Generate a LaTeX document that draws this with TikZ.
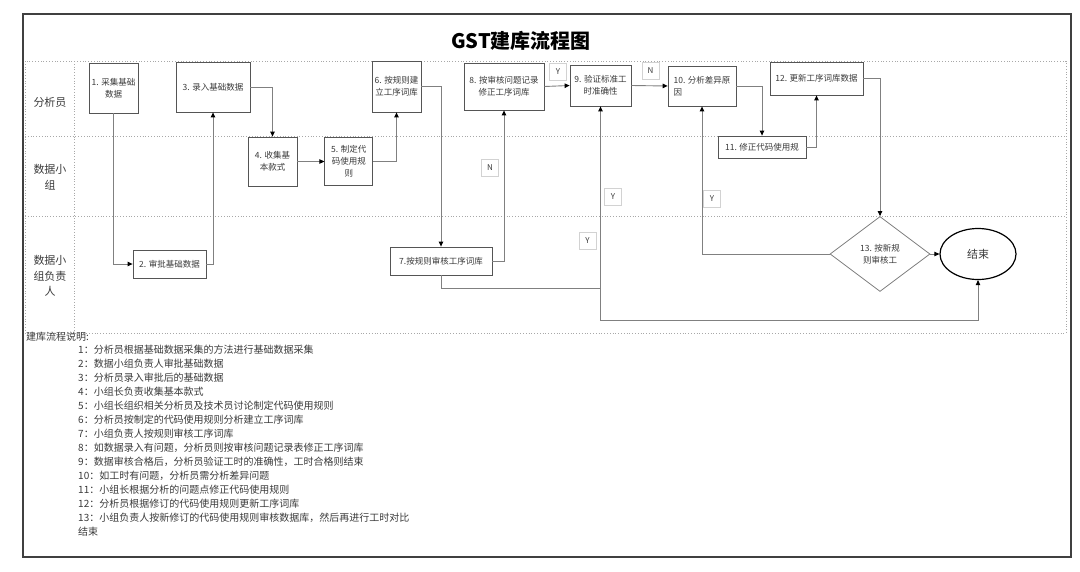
\documentclass[tikz,border=0pt]{standalone}
\usepackage{fontspec}
\setmainfont{Noto Sans CJK SC}
\usetikzlibrary{arrows.meta,positioning,shapes.geometric}
\definecolor{boxgrey}{HTML}{555555}
\definecolor{linegrey}{HTML}{808080}
\definecolor{lanegrey}{HTML}{A8A8A8}
\definecolor{taggrey}{HTML}{D2D2D2}
\definecolor{textgrey}{HTML}{3A3A3A}
\definecolor{framegrey}{HTML}{404040}

\begin{document}
\begin{tikzpicture}[x=1pt,y=-1pt,
  box/.style={draw=boxgrey,line width=.8pt,fill=white,align=center,inner sep=1pt,font=\fontsize{8.5}{12}\selectfont,text=textgrey},
  flow/.style={-{Triangle[length=5pt,width=4.5pt,color=black]},draw=linegrey,line width=.9pt},
  tag/.style={draw=taggrey,fill=white,minimum width=17pt,minimum height=17pt,inner sep=0pt,font=\fontsize{8}{9}\selectfont,text=textgrey},
  lane/.style={draw=lanegrey,dotted,line width=.8pt},
  lanelabel/.style={align=center,font=\fontsize{11}{15.5}\selectfont,text=textgrey},
  descr/.style={anchor=west,inner sep=0pt,font=\fontsize{10}{12}\selectfont,text=textgrey}
]
\useasboundingbox (0,0) rectangle (1080,571);
\draw[framegrey,line width=1.6pt] (23,14) rectangle (1071,557);
\node[font=\fontsize{20}{24}\selectfont\bfseries] (title) at (521,41) {GST建库流程图};

% swimlanes
\draw[lane] (25,61) rectangle (1066,333);
\draw[lane] (74,61) -- (74,333);
\draw[lane] (25,136) -- (1066,136);
\draw[lane] (25,216) -- (1066,216);
\node[lanelabel] (analyst) at (50,102) {分析员};
\node[lanelabel] (group) at (50,177) {数据小\\组};
\node[lanelabel] (leader) at (50,276) {数据小\\组负责\\人};

% steps
\node[box,minimum width=49pt,minimum height=50pt] (s1) at (113.5,88) {1. 采集基础\\数据};
\node[box,minimum width=73pt,minimum height=28pt] (s2) at (169.5,264) {2. 审批基础数据};
\node[box,minimum width=74pt,minimum height=50pt] (s3) at (213,87) {3. 录入基础数据};
\node[box,minimum width=49pt,minimum height=49pt] (s4) at (272.5,161.5) {4. 收集基\\本款式};
\node[box,minimum width=48pt,minimum height=48pt,right=27pt of s4] (s5) {5. 制定代\\码使用规\\则};
\node[box,minimum width=49pt,minimum height=51pt] (s6) at (396.5,86.5) {6. 按规则建\\立工序词库};
\node[box,minimum width=102pt,minimum height=28pt] (s7) at (441,261) {7.按规则审核工序词库};
\node[box,minimum width=80pt,minimum height=47pt] (s8) at (504,86.5) {8. 按审核问题记录\\修正工序词库};
\node[box,minimum width=61pt,minimum height=41pt] (s9) at (600.5,85.5) {9. 验证标准工\\时准确性};
\node[box,minimum width=68pt,minimum height=40pt,align=left] (s10) at (702,86) {10. 分析差异原\\因};
\node[box,minimum width=88pt,minimum height=22pt] (s11) at (762,147) {11. 修正代码使用规};
\node[box,minimum width=93pt,minimum height=33pt] (s12) at (816.5,78.5) {12. 更新工序词库数据};
\node[box,diamond,aspect=1.33,draw=linegrey,minimum width=100pt,minimum height=75pt,inner sep=0pt] (s13) at (880,254) {13. 按新规\\则审核工};
\node[box,ellipse,draw=black,line width=1.2pt,minimum width=76pt,minimum height=51pt,font=\fontsize{11}{13}\selectfont,right=9pt of s13] (end) {结束};

\coordinate (split) at (s9.south |- 0,288);
\coordinate (low) at (s9.south |- 0,320);

\draw[flow] (s1.south) |- (s2.west);
\draw[flow] (s2.east) -| (s3.south);
\draw[flow] (s3.east) -| (s4.north);
\draw[flow] (s4.east) -- (s5.west);
\draw[flow] (s5.east) -| (s6.south);
\draw[flow] (s6.east) -| (s7.north);
\draw[flow] (s7.east) -| (s8.south);
\draw[flow] (s8.east) -- (s9.west);
\draw[flow] (s9.east) -- (s10.west);
\draw[flow] (s10.east) -| (s11.north);
\draw[flow] (s11.east) -| (s12.south);
\draw[flow] (s12.east) -| (s13.north);
\draw[flow] (s13.east) -- (end.west);
\draw[flow] (s13.west) -| (s10.south);
\draw[flow] (s7.south) |- (split) -- (s9.south);
\draw[flow] (split) -- (low) -| (end.south);

% branch tags
\node[tag] (y89) at (558,72) {Y};
\node[tag] (n910) at (650.5,71) {N};
\node[tag] (n78) at (490,167.5) {N};
\node[tag] (y79) at (613,196.5) {Y};
\node[tag] (y1310) at (712,199) {Y};
\node[tag] (y7end) at (587.5,241) {Y};

% notes
\node[descr] (dhead) at (26,336.5) {建库流程说明:};
\foreach \txt [count=\i] in {
  1：分析员根据基础数据采集的方法进行基础数据采集,
  2：数据小组负责人审批基础数据,
  3：分析员录入审批后的基础数据,
  4：小组长负责收集基本款式,
  5：小组长组织相关分析员及技术员讨论制定代码使用规则,
  6：分析员按制定的代码使用规则分析建立工序词库,
  7：小组负责人按规则审核工序词库,
  8：如数据录入有问题，分析员则按审核问题记录表修正工序词库,
  9：数据审核合格后，分析员验证工时的准确性，工时合格则结束,
  10：如工时有问题，分析员需分析差异问题,
  11：小组长根据分析的问题点修正代码使用规则,
  12：分析员根据修订的代码使用规则更新工序词库,
  13：小组负责人按新修订的代码使用规则审核数据库，然后再进行工时对比,
  结束}
  \node[descr] (d\i) at (78,336+14*\i) {\txt};
\end{tikzpicture}
\end{document}
